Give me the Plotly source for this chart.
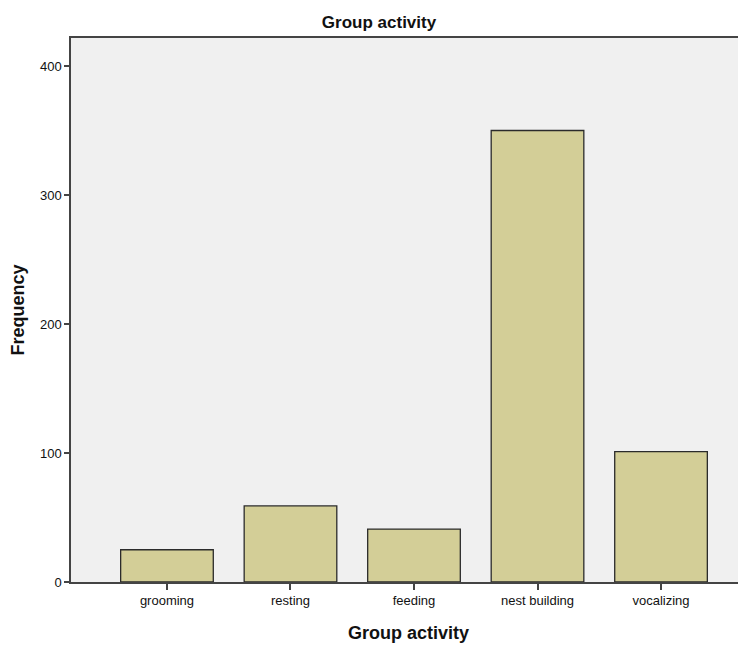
import plotly.graph_objects as go

categories = ["grooming", "resting", "feeding", "nest building", "vocalizing"]
frequencies = [25, 59, 41, 350, 101]
y_ticks = [0, 100, 200, 300, 400]

fig = go.Figure()
fig.add_trace(go.Bar(
    x=list(range(len(categories))),
    y=frequencies,
    width=0.75,
    marker=dict(color="#D3CE97", line=dict(color="#2b2b2b", width=1.3)),
))

# page body adds an 8px offset; compensate so the plot lands where the reference has it
fig.update_layout(
    width=738, height=638,
    margin=dict(l=63, r=0, t=30, b=64),
    paper_bgcolor="white",
    plot_bgcolor="#F0F0F0",
    font=dict(family="Arial, Liberation Sans, sans-serif", color="#111"),
    title=dict(text="<b>Group activity</b>", x=(379 - 8) / 738, xanchor="center",
               y=1 - (22 - 8) / 638, yanchor="middle",
               font=dict(size=17, color="#111")),
    showlegend=False,
)
fig.update_xaxes(
    tickmode="array", tickvals=list(range(len(categories))), ticktext=categories,
    range=[-0.777, 4.688],
    showgrid=False, zeroline=False,
    showline=True, linecolor="#444", linewidth=1.5, mirror=True,
    ticks="outside", ticklen=6, tickcolor="#444", tickwidth=1.5,
    tickfont=dict(size=13),
    title=dict(text="<b>Group activity</b>", font=dict(size=18), standoff=19),
)
fig.update_yaxes(
    tickmode="array", tickvals=y_ticks,
    range=[0, 421.7],
    showgrid=False, zeroline=False,
    showline=True, linecolor="#444", linewidth=1.5,
    ticks="outside", ticklen=5, tickcolor="#444", tickwidth=1.5,
    tickfont=dict(size=13),
    title=dict(text="<b>Frequency</b>", font=dict(size=18), standoff=12),
)

fig.write_html("out.html")
